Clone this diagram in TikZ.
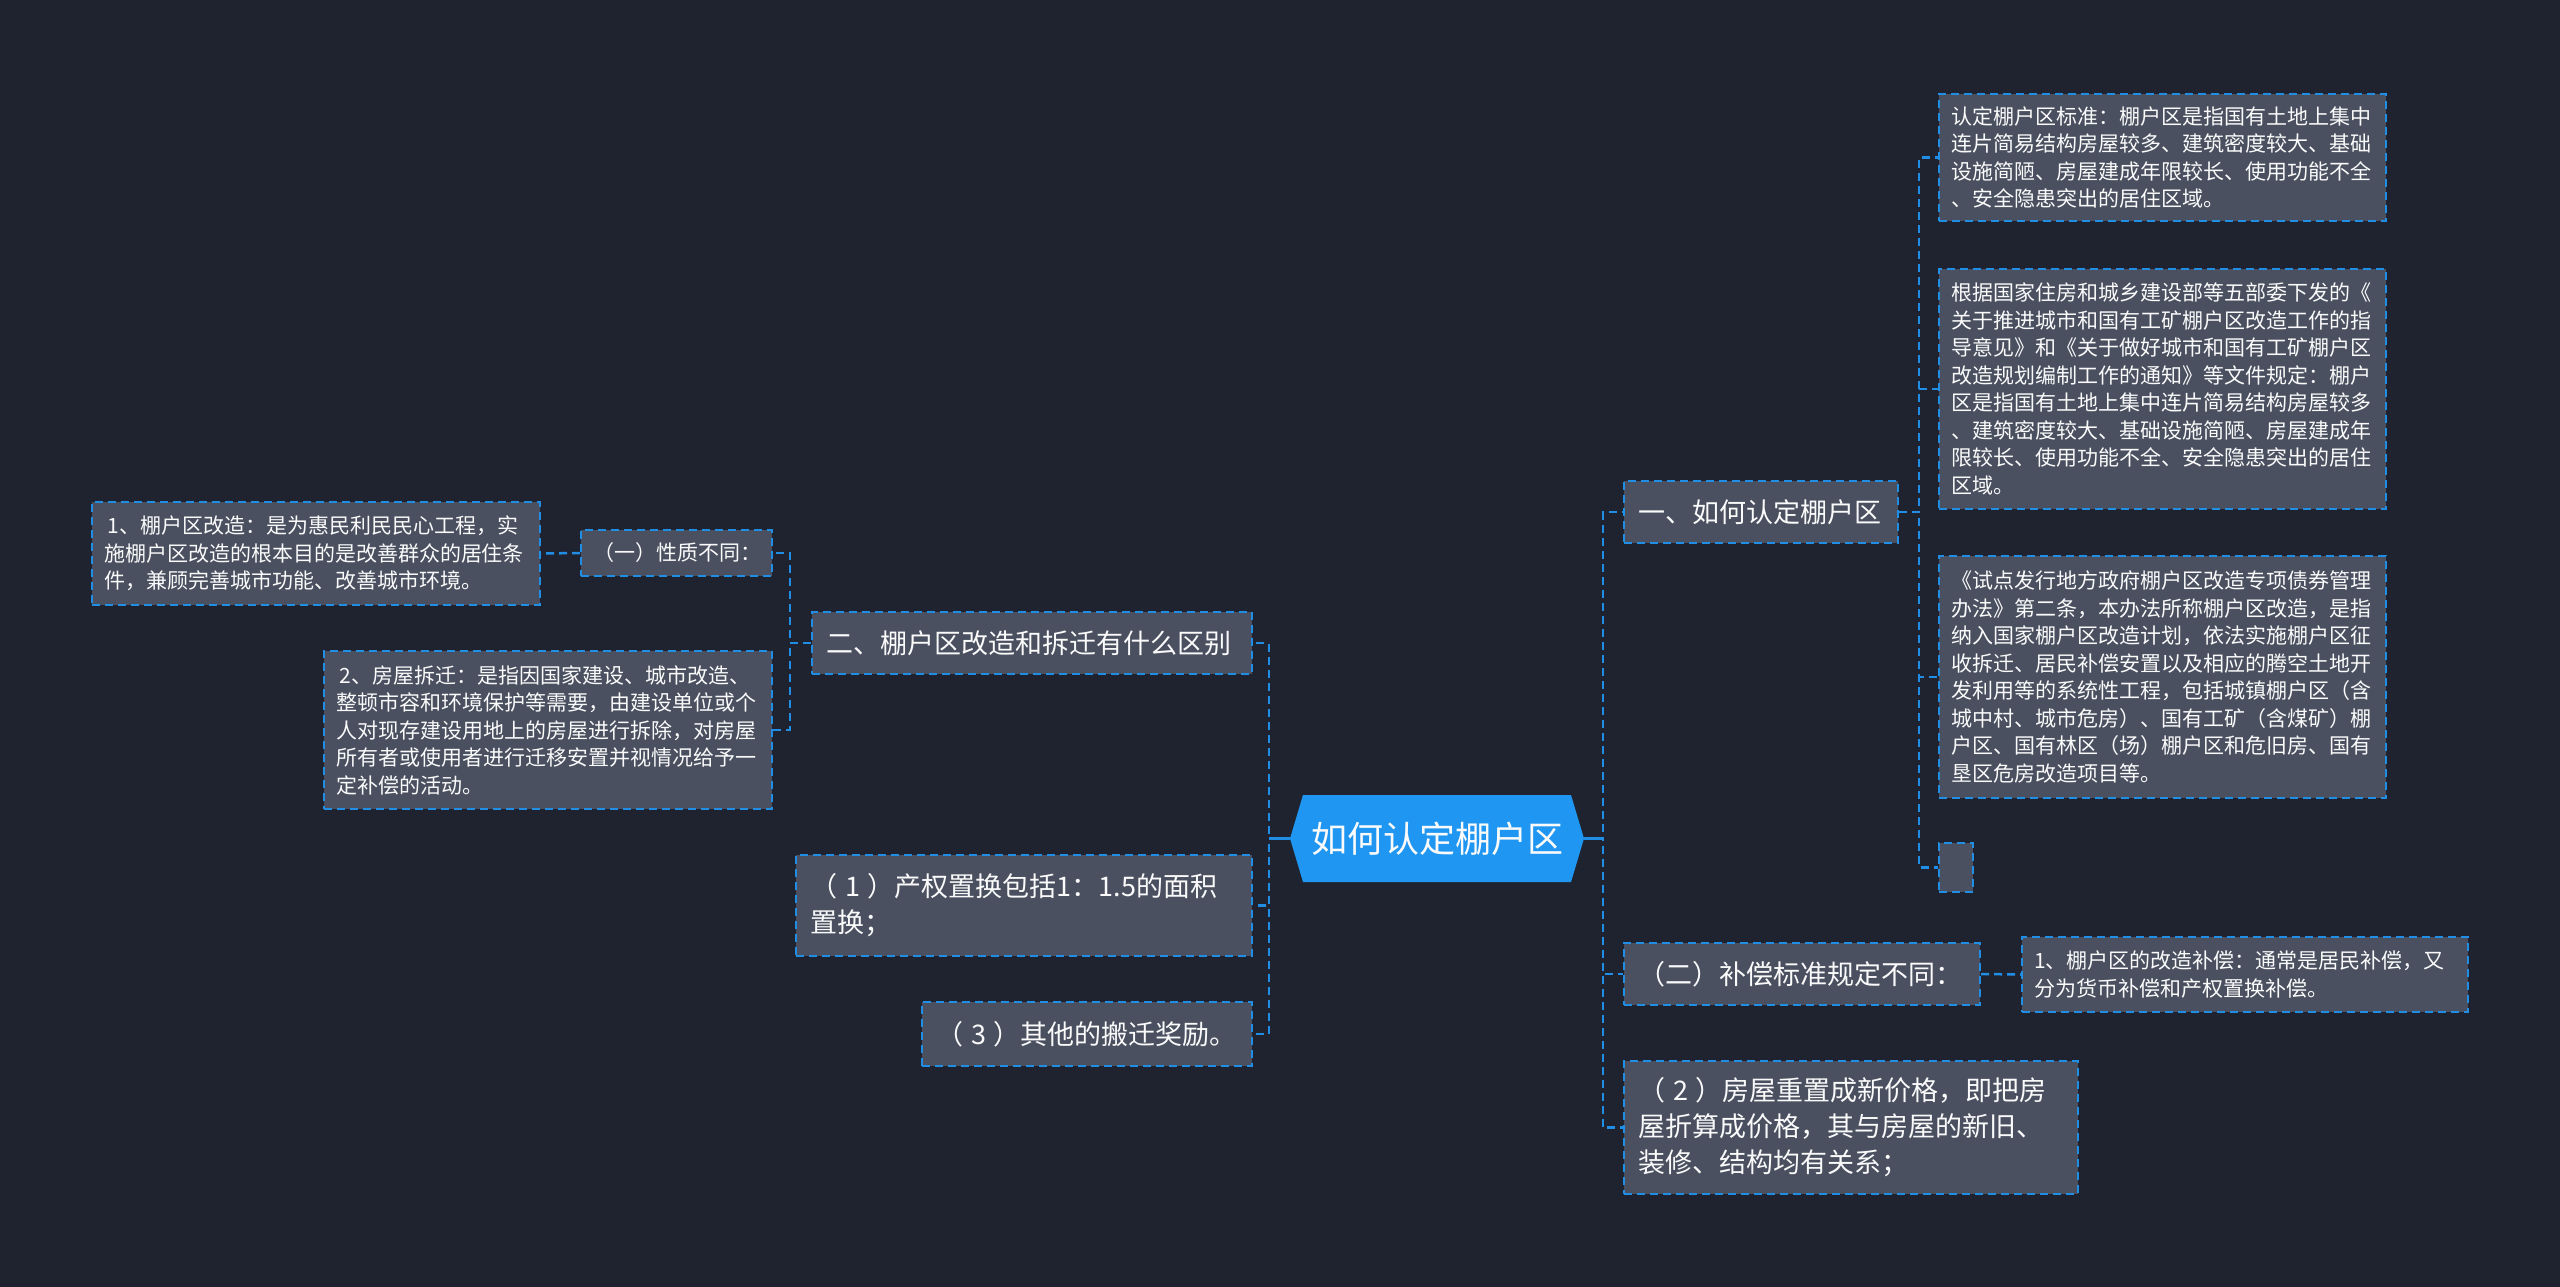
\documentclass[tikz,border=0pt]{standalone}
\usepackage{fontspec}
\setmainfont{Noto Sans CJK SC}
\definecolor{bg}{RGB}{31,35,47}
\definecolor{boxfill}{RGB}{74,80,96}
\definecolor{lineblue}{RGB}{33,142,230}
\definecolor{rootblue}{RGB}{30,150,242}
\definecolor{txt}{RGB}{250,250,250}
\newcommand{\pd}[1]{（\hspace{8pt}#1\hspace{8pt}）}
\tikzset{
  base/.style={draw=lineblue, fill=boxfill, line width=2pt, dash pattern=on 8pt off 5pt, text=txt, anchor=north west, inner ysep=0pt, align=left},
  small/.style={base, font={\fontsize{21}{27.5}\selectfont}, inner xsep=12pt},
  big/.style={base, font={\fontsize{27}{36}\selectfont}, inner xsep=14pt},
  conn/.style={draw=lineblue, line width=2.5pt, dash pattern=on 8pt off 5pt},
  connsolid/.style={draw=lineblue, line width=3pt},
  rootnode/.style={draw=none, text=txt, inner sep=0pt, minimum width=294pt, minimum height=87pt, font={\fontsize{36}{42}\selectfont}}
}
\begin{document}
\begin{tikzpicture}[x=1pt,y=-1pt]
\useasboundingbox (0,0) rectangle (2560,1287);
\fill[bg] (0,0) rectangle (2560,1287);

% root hexagon
\fill[rootblue] (1290,838.5) -- (1303,795) -- (1571,795) -- (1584,838.5) -- (1571,882) -- (1303,882) -- cycle;
\node[rootnode] (root) at (1437,838.5) {如何认定棚户区};

% right side
\node[big, text width=246pt, minimum height=62pt] (L1a) at (1623,480) {一、如何认定棚户区};
\node[small, text width=423pt, minimum height=127pt] (A) at (1938,93) {认定棚户区标准：棚户区是指国有土地上集中\\连片简易结构房屋较多、建筑密度较大、基础\\设施简陋、房屋建成年限较长、使用功能不全\\、安全隐患突出的居住区域。};
\node[small, text width=423pt, minimum height=240pt] (B) at (1938,268) {根据国家住房和城乡建设部等五部委下发的《\\关于推进城市和国有工矿棚户区改造工作的指\\导意见》和《关于做好城市和国有工矿棚户区\\改造规划编制工作的通知》等文件规定：棚户\\区是指国有土地上集中连片简易结构房屋较多\\、建筑密度较大、基础设施简陋、房屋建成年\\限较长、使用功能不全、安全隐患突出的居住\\区域。};
\node[small, text width=423pt, minimum height=242pt] (C) at (1938,555) {《试点发行地方政府棚户区改造专项债券管理\\办法》第二条，本办法所称棚户区改造，是指\\纳入国家棚户区改造计划，依法实施棚户区征\\收拆迁、居民补偿安置以及相应的腾空土地开\\发利用等的系统性工程，包括城镇棚户区（含\\城中村、城市危房）、国有工矿（含煤矿）棚\\户区、国有林区（场）棚户区和危旧房、国有\\垦区危房改造项目等。};
\node[base, inner sep=0pt, minimum width=34pt, minimum height=49pt] (E) at (1938,842) {};

\node[big, text width=328pt, minimum height=62pt] (L1b) at (1623,942) {（二）补偿标准规定不同：};
\node[small, text width=422pt, minimum height=75pt] (D) at (2021,936) {1、棚户区的改造补偿：通常是居民补偿，又\\分为货币补偿和产权置换补偿。};
\node[big, text width=426pt, minimum height=133pt] (L1c) at (1623,1060) {\pd{2}房屋重置成新价格，即把房\\屋折算成价格，其与房屋的新旧、\\装修、结构均有关系；};

% left side
\node[big, text width=412pt, minimum height=62pt] (L1d) at (811,611) {二、棚户区改造和拆迁有什么区别};
\node[small, text width=167pt, minimum height=46pt] (M) at (580,529) {（一）性质不同：};
\node[small, text width=424pt, minimum height=103pt] (F) at (91,501) {\,1、棚户区改造：是为惠民利民民心工程，实\\施棚户区改造的根本目的是改善群众的居住条\\件，兼顾完善城市功能、改善城市环境。};
\node[small, text width=424pt, minimum height=158pt] (G) at (323,650) {\,2、房屋拆迁：是指因国家建设、城市改造、\\整顿市容和环境保护等需要，由建设单位或个\\人对现存建设用地上的房屋进行拆除，对房屋\\所有者或使用者进行迁移安置并视情况给予一\\定补偿的活动。};
\node[big, text width=428pt, minimum height=101pt] (L1e) at (795,854) {\pd{1}产权置换包括1：1.5的面积\\置换；};
\node[big, text width=302pt, minimum height=64pt] (L1f) at (921,1001) {\pd{3}其他的搬迁奖励。};

% connectors: root right
\draw[conn] (root.east) -- ++(19,0) |- (L1a.west);
\draw[conn] (root.east) -- ++(19,0) |- (L1b.west);
\draw[conn] (root.east) -- ++(19,0) |- (L1c.west);
\draw[connsolid] (root.east) -- ++(19,0);
% root left
\draw[conn] (root.west) -- ++(-21,0) |- (L1d.east);
\draw[conn] (root.west) -- ++(-21,0) |- (L1e.east);
\draw[conn] (root.west) -- ++(-21,0) |- (L1f.east);
\draw[connsolid] (root.west) -- ++(-21,0);
% sub trees
\draw[conn] (L1a.east) -- ++(20,0) |- (A.west);
\draw[conn] (L1a.east) -- ++(20,0) |- (B.west);
\draw[conn] (L1a.east) -- ++(20,0) |- (C.west);
\draw[conn] (L1a.east) -- ++(20,0) |- (E.west);
\draw[conn] (L1b.east) -- (D.west);
\draw[conn] (L1d.west) -- ++(-21,0) |- (M.east);
\draw[conn] (L1d.west) -- ++(-21,0) |- (G.east);
\draw[conn] (M.west) -- (F.east);
\end{tikzpicture}
\end{document}
